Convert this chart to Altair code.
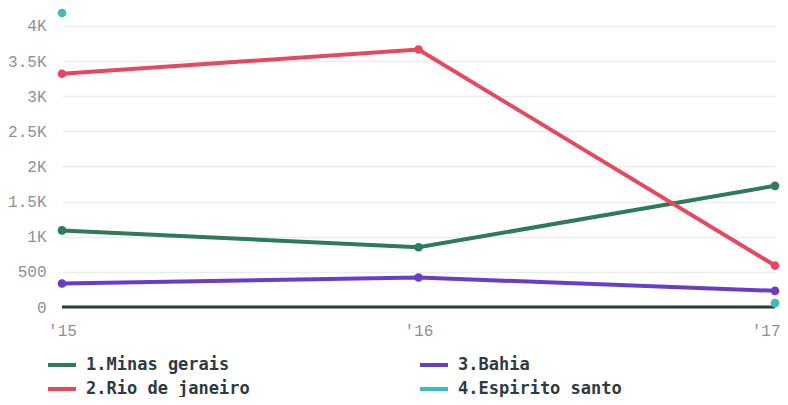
import altair as alt
import pandas as pd

years = ["'15", "'16", "'17"]
series = ["1.Minas gerais", "2.Rio de janeiro", "3.Bahia", "4.Espirito santo"]
minas = [1090, 850, 1725]
rio = [3320, 3665, 590]
bahia = [335, 420, 230]
espirito = [4185, None, 55]
colors = ["#2e7a5a", "#e8485f", "#6a3dc9", "#3dbdb6"]

rows = []
for name, vals in zip(series, [minas, rio, bahia, espirito]):
    for y, v in zip(years, vals):
        rows.append({"year": y, "series": name, "value": v})
df = pd.DataFrame(rows)
df_valid = df.dropna()
df_lines = df_valid[df_valid["series"] != "4.Espirito santo"]

color = alt.Color(
    "series:N",
    scale=alt.Scale(domain=series, range=colors),
    legend=alt.Legend(
        title=None, orient="none", legendX=-16, legendY=336, columns=2,
        symbolType="stroke", symbolSize=784, symbolStrokeWidth=4,
        labelFont="DejaVu Sans Mono", labelFontSize=17, labelFontWeight="bold",
        labelColor="#2d3b45", columnPadding=162, rowPadding=-3, padding=0,
        labelOffset=8, labelLimit=300,
    ),
)

x = alt.X("year:O", scale=alt.Scale(domain=years, type="point", padding=0),
          axis=alt.Axis(title=None, domain=False, ticks=False, grid=False, labelAngle=0,
                        labelPadding=15, labelFont="Liberation Mono", labelFontSize=16,
                        labelColor="#8c9196", labelOverlap=False,
                        labelAlign={"condition": {"test": "datum.value == \"'17\"", "value": "right"}, "value": "center"},
                        labelOffset={"condition": {"test": "datum.value == \"'17\"", "value": 5}, "value": 0}))

y_scale = alt.Scale(domain=[0, 4185], nice=False, zero=True)
y_axis = alt.Axis(title=None, domain=False, ticks=False,
                  values=[0, 500, 1000, 1500, 2000, 2500, 3000, 3500, 4000],
                  labelExpr="datum.value >= 1000 ? (datum.value/1000) + 'K' : datum.value + ''",
                  labelPadding=16, labelFont="Liberation Mono", labelFontSize=16,
                  labelColor="#8c9196", gridColor="#ececec", gridWidth=1.5,
                  labelOverlap=False)
y = alt.Y("value:Q", scale=y_scale, axis=y_axis)

base = alt.Chart(df_valid)

zero = alt.Chart(pd.DataFrame({"value": [0]})).mark_rule(
    color="#2d3b45", strokeWidth=3).encode(y=y)
lines = alt.Chart(df_lines).mark_line(strokeWidth=4).encode(x=x, y=y, color=color)
points = base.mark_point(filled=True, size=75, opacity=1).encode(x=x, y=y, color=color)

chart = alt.layer(zero, lines, points).properties(
    width=713, height=294,
    padding={"left": 54, "top": 5, "right": 5, "bottom": 90},
    autosize=alt.AutoSizeParams(type="none"),
).configure_view(stroke=None)

chart.save("out.html", embed_options={"renderer": "svg", "actions": False})
